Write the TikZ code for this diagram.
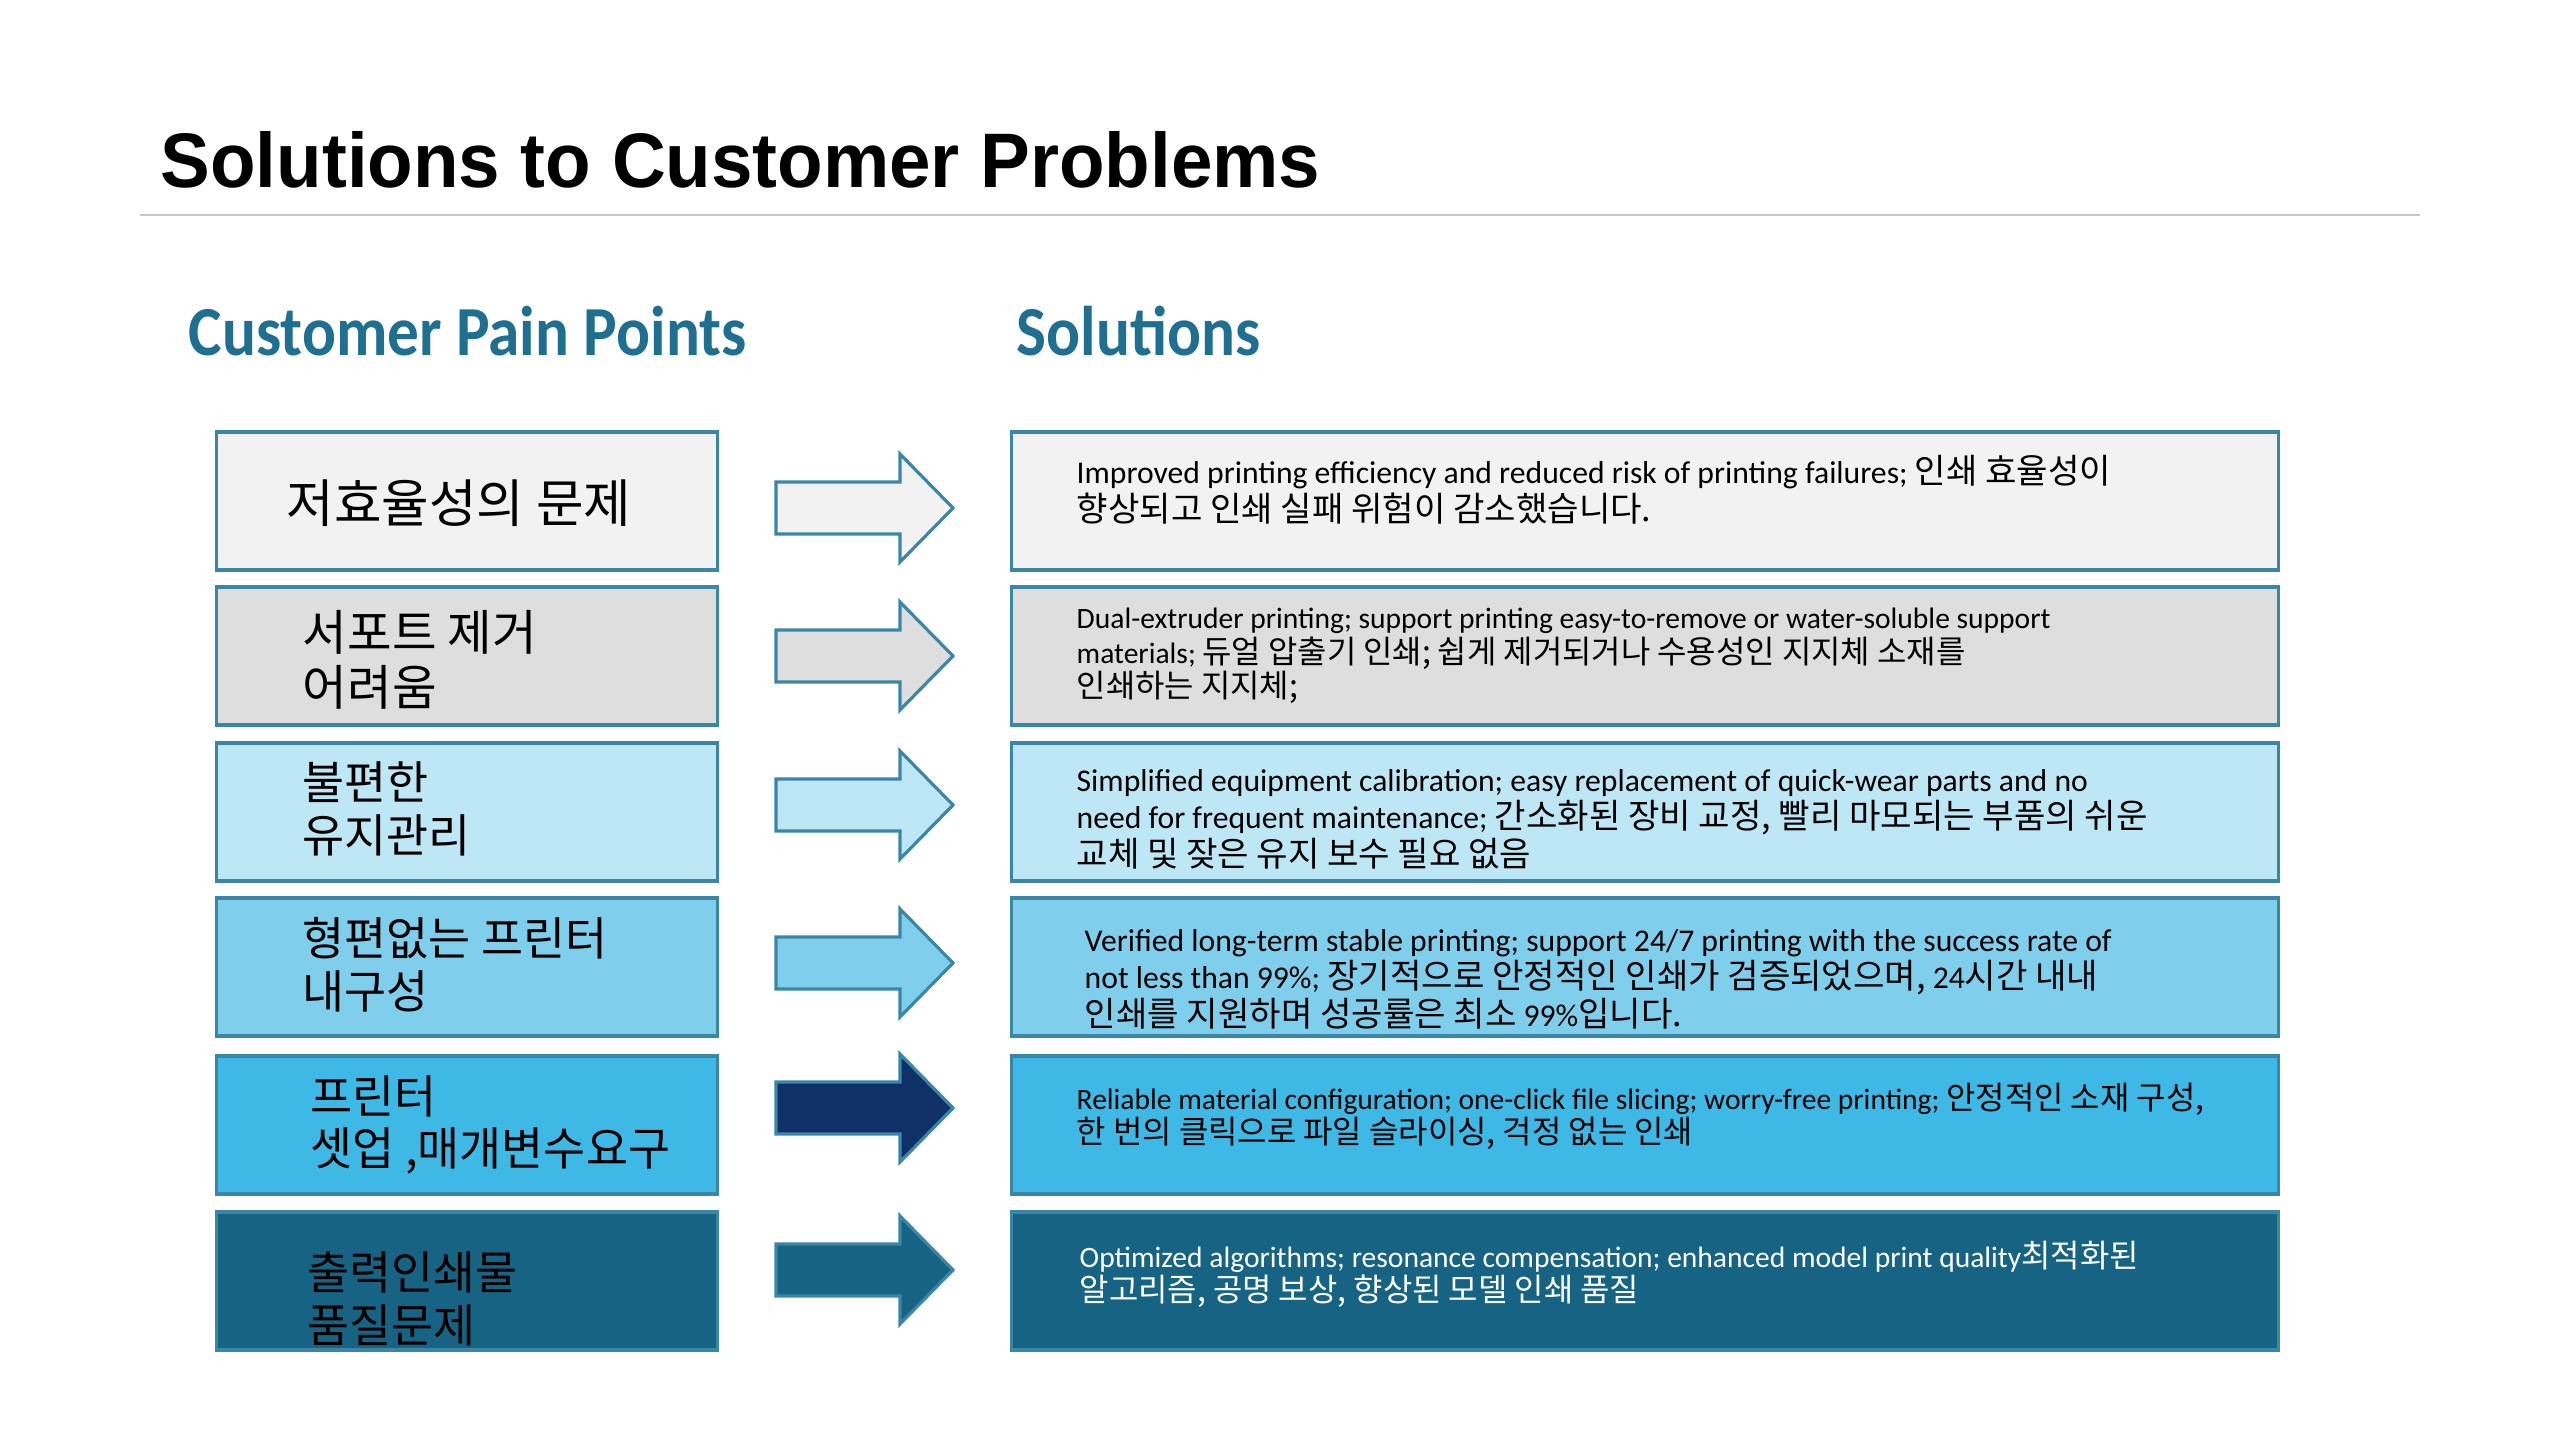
\documentclass[tikz,border=0pt]{standalone}
\usepackage{fontspec}
\setmainfont{Carlito}
\newfontfamily\kr{Noto Sans CJK KR}[Scale=1.08]
\newfontfamily\krbig{Noto Sans CJK KR}
\newfontfamily\titlefont{Liberation Sans}
\usetikzlibrary{calc}

\definecolor{edgeteal}{RGB}{58,134,168}
\definecolor{headteal}{RGB}{31,111,145}
\definecolor{rowA}{RGB}{242,242,242}
\definecolor{rowB}{RGB}{222,222,222}
\definecolor{rowC}{RGB}{190,231,246}
\definecolor{rowD}{RGB}{127,206,236}
\definecolor{rowE}{RGB}{62,185,229}
\definecolor{rowF}{RGB}{22,99,132}
\definecolor{navy}{RGB}{16,48,104}
\definecolor{rulegray}{RGB}{200,200,200}

\def\blockarrow[#1](#2,#3){\draw[#1] (#2,#3-26) -- ++(124,0) -- ++(0,-28) -- ++(53,54) -- ++(-53,54) -- ++(0,-28) -- ++(-124,0) -- cycle;}

\tikzset{
	painbox/.style={draw=edgeteal, line width=0.9pt, minimum width=5cm, minimum height=1.38cm, inner sep=0pt},
	solbox/.style={draw=edgeteal, line width=0.9pt, minimum width=12.66cm, minimum height=1.38cm, inner sep=0pt},
	paintext/.style={anchor=west, align=left, inner sep=0pt, font=\krbig\fontsize{13}{15}\selectfont},
	soltext/.style={anchor=north west, align=left, inner sep=0pt, font=\fontsize{9}{10.6}\selectfont},
	smalltext/.style={soltext, font=\fontsize{8.4}{9.9}\selectfont},
	heading/.style={anchor=base west, inner sep=0pt, text=headteal, font=\bfseries\fontsize{20}{24}\selectfont},
}

\begin{document}
\begin{tikzpicture}[x=0.01cm, y=-0.01cm]
			%%%%% START %%%%%
			
			\fill[white] (0,0) rectangle (2560,1440);
			\useasboundingbox (0,0) rectangle (2560,1440);
			
			\node[anchor=base west, inner sep=0pt] (title) at (160,188) {\resizebox{11.59cm}{0.56cm}{\titlefont\bfseries Solutions to Customer Problems}};
			\draw[rulegray, line width=0.6pt] (140,215) -- (2420,215);
			
			\node[heading] (painhead) at (188,356) {\scalebox{0.9}[1]{Customer Pain Points}};
			\node[heading] (solhead) at (1016,356) {\scalebox{0.9}[1]{Solutions}};
			
			\node[painbox, fill=rowA] (pain1) at (467,501) {};
			\node[painbox, fill=rowB] (pain2) at (467,656) {};
			\node[painbox, fill=rowC] (pain3) at (467,812) {};
			\node[painbox, fill=rowD] (pain4) at (467,967) {};
			\node[painbox, fill=rowE] (pain5) at (467,1125) {};
			\node[painbox, fill=rowF] (pain6) at (467,1281) {};
			
			\node[paintext, font=\krbig\fontsize{14.7}{17}\selectfont] (pain1t) at (286,503) {저효율성의 문제};
			\node[paintext, font=\krbig\fontsize{13.8}{15.6}\selectfont] (pain2t) at (302,660) {서포트 제거\\어려움};
			\node[paintext] (pain3t) at (302,809) {불편한\\유지관리};
			\node[paintext] (pain4t) at (302,965) {형편없는 프린터\\내구성};
			\node[paintext] (pain5t) at (310,1125) {프린터\\셋업 ,매개변수요구};
			\node[paintext] (pain6t) at (307,1299) {출력인쇄물\\품질문제};
			
			\blockarrow[draw=edgeteal, line width=0.9pt, fill=rowA](776,508)
			\blockarrow[draw=edgeteal, line width=0.9pt, fill=rowB](776,656)
			\blockarrow[draw=edgeteal, line width=0.9pt, fill=rowC](776,805)
			\blockarrow[draw=edgeteal, line width=0.9pt, fill=rowD](776,963)
			\blockarrow[draw=edgeteal, line width=0.9pt, fill=navy](776,1108)
			\blockarrow[draw=edgeteal, line width=0.9pt, fill=rowF](776,1270)
			
			\node[solbox, fill=rowA] (sol1) at (1645,501) {};
			\node[solbox, fill=rowB] (sol2) at (1645,656) {};
			\node[solbox, fill=rowC] (sol3) at (1645,812) {};
			\node[solbox, fill=rowD] (sol4) at (1645,967) {};
			\node[solbox, fill=rowE] (sol5) at (1645,1125) {};
			\node[solbox, fill=rowF] (sol6) at (1645,1281) {};
			
			\node[soltext] (sol1t) at (1076,455) {Improved printing efficiency and reduced risk of printing failures; {\kr 인쇄 효율성이}\\{\kr 향상되고 인쇄 실패 위험이 감소했습니다.}};
			\node[smalltext] (sol2t) at (1076,607) {Dual-extruder printing; support printing easy-to-remove or water-soluble support\\materials; {\kr 듀얼 압출기 인쇄;} {\kr 쉽게 제거되거나 수용성인 지지체 소재를}\\{\kr 인쇄하는 지지체;}};
			\node[soltext] (sol3t) at (1076,769) {Simplified equipment calibration; easy replacement of quick-wear parts and no\\need for frequent maintenance; {\kr 간소화된 장비 교정, 빨리 마모되는 부품의 쉬운}\\{\kr 교체 및 잦은 유지 보수 필요 없음}};
			\node[soltext] (sol4t) at (1084,929) {Verified long-term stable printing; support 24/7 printing with the success rate of\\not less than 99\%; {\kr 장기적으로 안정적인 인쇄가 검증되었으며,} 24{\kr 시간 내내}\\{\kr 인쇄를 지원하며 성공률은 최소} 99\%{\kr 입니다.}};
			\node[smalltext] (sol5t) at (1076,1082) {Reliable material configuration; one-click file slicing; worry-free printing; {\kr 안정적인 소재 구성,}\\{\kr 한 번의 클릭으로 파일 슬라이싱, 걱정 없는 인쇄}};
			\node[smalltext, text=white] (sol6t) at (1079,1240) {Optimized algorithms; resonance compensation; enhanced model print quality{\kr 최적화된}\\{\kr 알고리즘, 공명 보상, 향상된 모델 인쇄 품질}};
			
			%%%%% END %%%%%
\end{tikzpicture}
\end{document}
